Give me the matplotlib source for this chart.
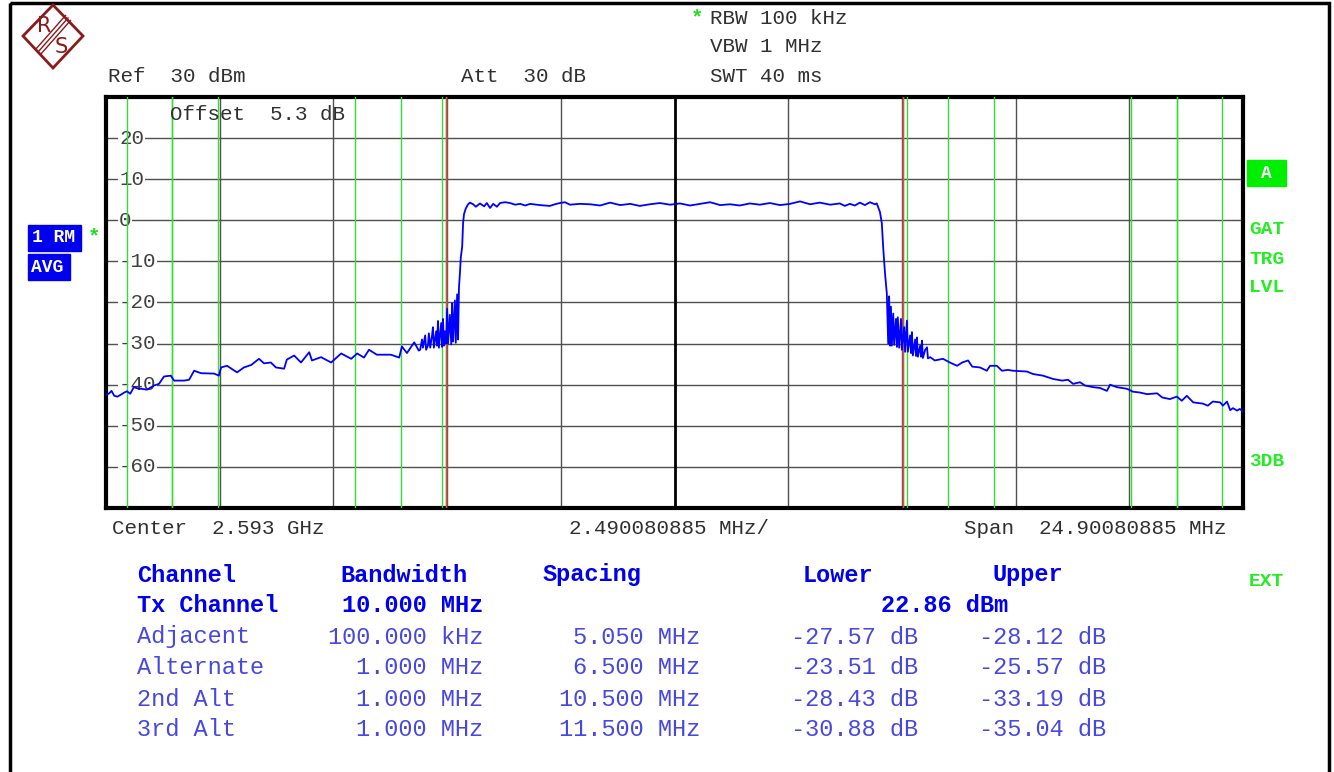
import numpy as np
import matplotlib
matplotlib.use("Agg")
import matplotlib.pyplot as plt
from matplotlib.patches import Polygon, Rectangle

W, H = 1334, 772
MONO = "Liberation Mono"

# spectrum trace, frequency offset from centre (MHz) and level (dBm)
trace_mhz = [
    -12.45, -12.38, -12.33, -12.27, -12.20, -12.12, -12.05, -11.99, -11.92, -11.84,
    -11.76, -11.68, -11.55, -11.40, -11.29, -11.18, -11.03, -10.96, -10.74, -10.63,
    -10.52, -10.37, -10.08, -9.98, -9.93, -9.80, -9.58, -9.43, -9.27, -9.10,
    -8.99, -8.84, -8.73, -8.55, -8.49, -8.33, -8.18, -8.00, -7.94, -7.74,
    -7.52, -7.30, -7.08, -6.95, -6.80, -6.69, -6.52, -6.21, -6.03, -5.97,
    -5.86, -5.70, -5.60,
    -5.57, -5.53, -5.51, -5.46, -5.44, -5.40, -5.38, -5.35, -5.31, -5.29,
    -5.27, -5.22, -5.20, -5.18, -5.16, -5.11, -5.09, -5.07, -5.05, -5.03,
    -5.00, -4.98, -4.96, -4.92, -4.89, -4.87, -4.85, -4.81, -4.79, -4.76,
    -4.74, -4.72, -4.70, -4.68, -4.65, -4.63, -4.61, -4.57, -4.52,
    -4.48, -4.41, -4.35, -4.26, -4.17, -4.11, -4.04, -3.97, -3.89, -3.82,
    -3.71, -3.60, -3.49, -3.38, -3.27, -3.16, -2.95, -2.73, -2.62, -2.51,
    -2.40, -2.29, -2.07, -1.85, -1.63, -1.41, -1.19, -0.97, -0.76, -0.54,
    -0.32, -0.10, 0.12, 0.34, 0.56, 0.78, 1.00, 1.22, 1.43, 1.65,
    1.87, 2.09, 2.31, 2.53, 2.75, 2.97, 3.18, 3.41, 3.62, 3.73,
    3.84, 3.95, 4.06, 4.17, 4.28, 4.39, 4.43,
    4.50, 4.54, 4.57, 4.61, 4.65, 4.68, 4.70, 4.72, 4.74, 4.76,
    4.79, 4.81, 4.85, 4.87, 4.89, 4.92, 4.96, 4.98, 5.03, 5.05,
    5.09, 5.11, 5.16, 5.18, 5.20, 5.22, 5.27, 5.29, 5.31, 5.33,
    5.38, 5.40, 5.42, 5.44, 5.49, 5.53, 5.55, 5.60,
    5.70, 5.88, 6.03, 6.19, 6.30, 6.43, 6.52, 6.69, 6.84, 6.91,
    7.06, 7.17, 7.30, 7.41, 7.72, 7.85, 8.07, 8.29, 8.49, 8.62,
    8.73, 8.88, 8.99, 9.17, 9.32, 9.47, 9.54, 9.69, 9.91, 10.04,
    10.19, 10.35, 10.57, 10.68, 10.85, 11.00, 11.11, 11.22, 11.36, 11.57,
    11.68, 11.79, 11.95, 12.01, 12.10, 12.17, 12.23, 12.32, 12.38, 12.45,
]
trace_dbm = [
    -42.5, -42.1, -41.5, -42.7, -42.9, -42.4, -41.9, -41.6, -42.2, -40.6,
    -40.9, -41.0, -41.2, -40.2, -39.8, -38.0, -37.8, -39.0, -39.0, -38.8,
    -36.6, -37.2, -37.3, -37.8, -35.8, -35.4, -37.0, -35.8, -35.2, -33.7,
    -34.8, -34.6, -35.8, -36.1, -33.9, -32.9, -34.6, -32.1, -34.1, -33.3,
    -34.6, -32.4, -33.7, -32.4, -33.4, -31.5, -32.7, -32.7, -33.4, -30.7,
    -32.3, -29.7, -31.7,
    -31.5, -29.0, -31.0, -28.0, -31.5, -30.5, -27.5, -31.0, -28.0, -26.0,
    -31.0, -27.0, -30.5, -24.5, -31.0, -25.0, -30.8, -24.0, -30.5, -27.0,
    -30.0, -21.5, -30.0, -23.0, -30.2, -20.2, -29.5, -19.5, -29.8, -18.0,
    -29.0, -16.3, -13.0, -9.0, -6.5, -0.7, 1.5, 2.9, 3.9,
    4.3, 3.9, 3.3, 4.1, 3.4, 4.2, 3.0, 4.0, 3.3, 4.2,
    4.4, 4.2, 3.8, 4.0, 3.6, 4.0, 3.7, 3.5, 3.9, 4.2,
    4.4, 3.8, 4.0, 3.9, 3.6, 4.3, 3.7, 4.0, 3.5, 3.9,
    4.2, 3.8, 4.1, 3.6, 4.0, 4.4, 3.7, 3.9, 3.6, 4.1,
    3.8, 4.2, 3.7, 4.0, 4.6, 3.9, 4.3, 3.8, 4.1, 3.5,
    4.0, 3.6, 4.3, 3.7, 4.4, 3.9, 4.1,
    2.0, -0.7, -6.5, -12.9, -17.8, -30.0, -18.5, -30.5, -21.0, -30.5,
    -22.7, -30.3, -24.0, -30.8, -23.6, -31.0, -24.0, -31.5, -26.0, -32.0,
    -24.4, -32.0, -28.0, -32.3, -27.2, -32.9, -29.0, -33.0, -28.5, -33.2,
    -30.5, -33.2, -29.3, -33.5, -31.5, -30.9, -33.6, -33.3,
    -34.1, -33.7, -34.6, -35.4, -34.6, -34.1, -35.6, -35.8, -36.6, -35.4,
    -35.4, -36.6, -36.4, -36.6, -36.8, -37.4, -37.8, -38.6, -39.0, -38.8,
    -39.8, -39.4, -40.2, -40.6, -40.8, -41.5, -40.0, -40.6, -41.0, -41.7,
    -41.9, -42.3, -42.1, -43.1, -43.5, -42.9, -43.9, -42.7, -44.3, -44.6,
    -45.1, -44.1, -44.3, -45.1, -44.1, -46.2, -45.7, -46.3, -45.9, -46.5,
]

span_mhz = 24.90080885
ref_level = 30
y_ticks = [20, 10, 0, -10, -20, -30, -40, -50, -60]

# ACP table
tx_bw = 10.0
ch_names = ["Adjacent", "Alternate", "2nd Alt", "3rd Alt"]
ch_bw_mhz = [0.1, 1.0, 1.0, 1.0]
ch_bw_txt = ["100.000 kHz", "1.000 MHz", "1.000 MHz", "1.000 MHz"]
ch_spacing = [5.050, 6.500, 10.500, 11.500]
lower_db = [-27.57, -23.51, -28.43, -30.88]
upper_db = [-28.12, -25.57, -33.19, -35.04]
tx_power = 22.86

fig = plt.figure(figsize=(W / 100, H / 100), dpi=100)

def px(x, y):
    return x / W, 1 - y / H

def ftext(x, y, s, **kw):
    kw.setdefault("family", MONO)
    kw.setdefault("fontsize", 15)
    kw.setdefault("color", "#303030")
    kw.setdefault("va", "center")
    fig.text(*px(x, y), s, **kw)

# background layer (frame, logo, boxes)
ov = fig.add_axes([0, 0, 1, 1], zorder=-1)
ov.set_xlim(0, W)
ov.set_ylim(H, 0)
ov.axis("off")
ov.add_patch(Rectangle((10, 3), 1319, 780, fill=False, lw=2.5, ec="black"))
red = "#8b1a1a"
ov.add_patch(Polygon([(23, 36), (53, 5), (83, 36), (53, 68)], closed=True,
                     fill=False, ec=red, lw=2))
for d in (-2.5, 0, 2.5):
    ov.plot([68 + d, 38 + d], [18 + d, 52 + d], color=red, lw=1)
ov.text(44, 26, "R", color=red, fontsize=15, ha="center", va="center")
ov.text(61, 47, "S", color=red, fontsize=15, ha="center", va="center")
ov.add_patch(Rectangle((28, 225), 53, 26, color="#0000ee"))
ov.add_patch(Rectangle((28, 254), 42, 26, color="#0000ee"))
ov.add_patch(Rectangle((1247, 160), 39, 26, color="#00ee00"))

# main trace axes
ax = fig.add_axes([106 / W, 1 - 508 / H, 1137 / W, 411 / H])
half = span_mhz / 2
ax.set_xlim(-half, half)
ax.set_ylim(ref_level - 100, ref_level)
ax.set_xticks([])
ax.set_yticks([])
for s in ax.spines.values():
    s.set_linewidth(3)
    s.set_color("black")

for v in y_ticks:
    ax.axhline(v, color="#505050", lw=1, zorder=1)
    ax.text(0.0115, v, str(v), transform=ax.get_yaxis_transform(), family=MONO,
            fontsize=15, color="#404040", va="center", ha="left", zorder=2,
            bbox=dict(fc="white", ec="none", pad=0.5))
for k in range(1, 10):
    x = -half + k * span_mhz / 10
    if k == 5:
        ax.axvline(x, color="black", lw=2, zorder=1)
    else:
        ax.axvline(x, color="#505050", lw=1, zorder=1)

# channel limit lines
for sp, bw in zip(ch_spacing, ch_bw_mhz):
    for sgn in (-1, 1):
        for e in (sp - bw / 2, sp + bw / 2):
            ax.axvline(sgn * e, color="#33dd33", lw=1, zorder=3)
for sgn in (-1, 1):
    ax.axvline(sgn * tx_bw / 2, color="#ee4444", lw=1, zorder=3)

ax.plot(trace_mhz, trace_dbm, color="#0000ff", lw=1.3, zorder=5)

# header texts
ftext(108, 77, "Ref  30 dBm")
ftext(461, 77, "Att  30 dB")
ftext(710, 18, "RBW 100 kHz")
ftext(710, 47, "VBW 1 MHz")
ftext(710, 77, "SWT 40 ms")
ftext(697, 18, "*", color="#22dd22", weight="bold", ha="center")
ftext(170, 115, "Offset  5.3 dB")
ftext(94, 237, "*", color="#22dd22", weight="bold", ha="center")
ftext(32, 238, "1 RM", color="white", weight="bold", fontsize=13)
ftext(31, 267, "AVG", color="white", weight="bold", fontsize=13)
ftext(1266, 173, "A", color="white", weight="bold", fontsize=13, ha="center")
for lab, yy in [("GAT", 229), ("TRG", 259), ("LVL", 288), ("3DB", 461), ("EXT", 582)]:
    ftext(1249, yy, lab, color="#22ee22", weight="bold", fontsize=14)

ftext(112, 528, "Center  2.593 GHz")
ftext(569, 528, "%.9f MHz/" % (span_mhz / 10))
ftext(1226, 528, "Span  %.8f MHz" % span_mhz, ha="right")

# ACP table
bold_c = "#0000ee"
row_c = "#4848e0"
tsz = 17
ftext(137, 575, "Channel", color=bold_c, weight="bold", fontsize=tsz)
ftext(340, 575, "Bandwidth", color=bold_c, weight="bold", fontsize=tsz)
ftext(543, 575, "Spacing", color=bold_c, weight="bold", fontsize=tsz)
ftext(803, 575, "Lower", color=bold_c, weight="bold", fontsize=tsz)
ftext(992, 575, "Upper", color=bold_c, weight="bold", fontsize=tsz)
ftext(137, 606, "Tx Channel", color=bold_c, weight="bold", fontsize=tsz)
ftext(483, 606, "%.3f MHz" % tx_bw, color=bold_c, weight="bold", fontsize=tsz, ha="right")
ftext(1008, 606, "%.2f dBm" % tx_power, color=bold_c, weight="bold", fontsize=tsz, ha="right")
for i, name in enumerate(ch_names):
    yy = 637 + i * 31
    ftext(137, yy, name, color=row_c, fontsize=tsz)
    ftext(483, yy, ch_bw_txt[i], color=row_c, fontsize=tsz, ha="right")
    ftext(700, yy, "%.3f MHz" % ch_spacing[i], color=row_c, fontsize=tsz, ha="right")
    ftext(918, yy, "%.2f dB" % lower_db[i], color=row_c, fontsize=tsz, ha="right")
    ftext(1106, yy, "%.2f dB" % upper_db[i], color=row_c, fontsize=tsz, ha="right")

fig.savefig("out.png", dpi=100, facecolor="white")
